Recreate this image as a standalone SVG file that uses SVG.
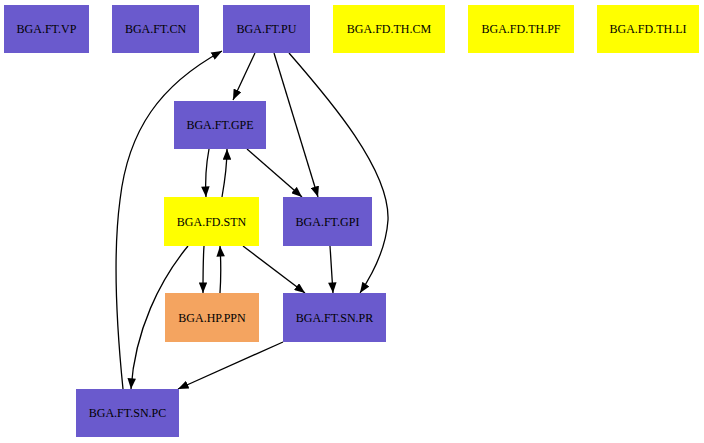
<svg xmlns="http://www.w3.org/2000/svg" width="704" height="443" viewBox="0 0 704 443">
<style>
.n text{font-family:"Liberation Serif","Times New Roman",serif;font-size:12px;font-weight:normal;fill:#000;text-anchor:middle;dominant-baseline:central}
.b{fill:#6a5acd}
.y{fill:#ffff00}
.o{fill:#f4a460}
.e path{fill:none;stroke:#000;stroke-width:1.3;marker-end:url(#ah)}
</style>
<defs>
<marker id="ah" viewBox="0 0 10 8" refX="10" refY="4" markerWidth="11" markerHeight="8.5" markerUnits="userSpaceOnUse" orient="auto">
<path d="M0,0 L10,4 L0,8 z" fill="#000"/>
</marker>
</defs>
<rect width="704" height="443" fill="#fff"/>
<g class="e" id="edges">
<path d="M255,53 L233,100"/>
<path d="M274,53 L318,197"/>
<path d="M289,53 C330,100 390,170 388,220 C386,250 372,275 360,293"/>
<path d="M209,149 C206,165 205,180 206,197"/>
<path d="M222,197 C225,180 227,165 227,149"/>
<path d="M247,149 L302,197"/>
<path d="M204,246 C203,260 203,275 203,293"/>
<path d="M220,293 C221,278 221,262 220,246"/>
<path d="M243,246 L305,293"/>
<path d="M188,246 C160,280 135,330 131,389"/>
<path d="M330,246 L333,293"/>
<path d="M283,342 L178,389"/>
<path d="M123,389 C117,330 112,260 120,200 C128,130 160,85 222,51"/>
</g>
<g class="n" id="n_vp"><rect class="b" x="4" y="5" width="85" height="48"/><text x="46.5" y="29">BGA.FT.VP</text></g>
<g class="n" id="n_cn"><rect class="b" x="112" y="5" width="87" height="48"/><text x="155.5" y="29">BGA.FT.CN</text></g>
<g class="n" id="n_pu"><rect class="b" x="223" y="5" width="87" height="48"/><text x="266.5" y="29">BGA.FT.PU</text></g>
<g class="n" id="n_cm"><rect class="y" x="333" y="5" width="112" height="48"/><text x="389" y="29">BGA.FD.TH.CM</text></g>
<g class="n" id="n_pf"><rect class="y" x="468" y="5" width="106" height="48"/><text x="521" y="29">BGA.FD.TH.PF</text></g>
<g class="n" id="n_li"><rect class="y" x="597" y="5" width="102" height="48"/><text x="648" y="29">BGA.FD.TH.LI</text></g>
<g class="n" id="n_gpe"><rect class="b" x="174" y="101" width="92" height="48"/><text x="220" y="125">BGA.FT.GPE</text></g>
<g class="n" id="n_stn"><rect class="y" x="164" y="197" width="95" height="49"/><text x="211.5" y="221.5">BGA.FD.STN</text></g>
<g class="n" id="n_gpi"><rect class="b" x="283" y="197" width="89" height="49"/><text x="327.5" y="221.5">BGA.FT.GPI</text></g>
<g class="n" id="n_ppn"><rect class="o" x="165" y="293" width="94" height="49"/><text x="212" y="317.5">BGA.HP.PPN</text></g>
<g class="n" id="n_snpr"><rect class="b" x="283" y="293" width="103" height="49"/><text x="334.5" y="317.5">BGA.FT.SN.PR</text></g>
<g class="n" id="n_snpc"><rect class="b" x="76" y="389" width="103" height="48"/><text x="127.5" y="413">BGA.FT.SN.PC</text></g>
</svg>
